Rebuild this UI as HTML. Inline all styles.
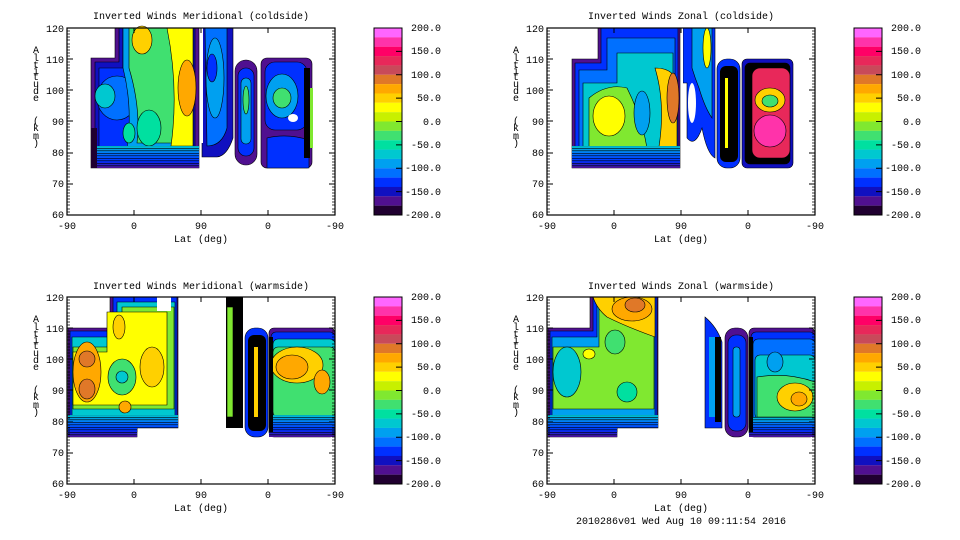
<!DOCTYPE html>
<html><head><meta charset="utf-8"><style>
html,body{margin:0;padding:0;background:#fff;}
svg{display:block;}
text{font-family:"Liberation Mono","DejaVu Sans Mono",monospace;font-size:10px;fill:#000;}
.c{stroke:#000;stroke-width:0.6;}
</style></head><body>
<svg width="960" height="540" viewBox="0 0 960 540" xmlns="http://www.w3.org/2000/svg">
<defs>
<linearGradient id="rimb" x1="0" y1="0" x2="0" y2="1">
<stop offset="0" stop-color="#00c8d0"/><stop offset="0.35" stop-color="#0070ff"/><stop offset="0.7" stop-color="#0030ff"/><stop offset="1" stop-color="#501090"/>
</linearGradient>
<pattern id="hl" width="4" height="2.5" patternUnits="userSpaceOnUse"><rect width="4" height="0.6" fill="#000"/></pattern>
<g id="ticks">
<rect x="0" y="0" width="268" height="187" fill="none" stroke="#000" stroke-width="1.2"/>
<path d="M67,187v-5M134,187v-5M201,187v-5M67,0v5M134,0v5M201,0v5" stroke="#000"/>
<path d="M0,0h6M0,31h6M0,62h6M0,93h6M0,125h6M0,156h6M0,187h6M268,0h-6M268,31h-6M268,62h-6M268,93h-6M268,125h-6M268,156h-6" stroke="#000"/>
<path d="M0,3h3M0,6h3M0,9h3M0,12h3M0,16h3M0,19h3M0,22h3M0,25h3M0,28h3M0,34h3M0,37h3M0,40h3M0,43h3M0,47h3M0,50h3M0,53h3M0,56h3M0,59h3M0,65h3M0,68h3M0,71h3M0,75h3M0,78h3M0,81h3M0,84h3M0,87h3M0,90h3M0,96h3M0,99h3M0,102h3M0,106h3M0,109h3M0,112h3M0,115h3M0,118h3M0,121h3M0,128h3M0,131h3M0,134h3M0,137h3M0,140h3M0,143h3M0,146h3M0,149h3M0,153h3M0,159h3M0,162h3M0,165h3M0,168h3M0,171h3M0,174h3M0,177h3M0,181h3M0,184h3" stroke="#000" stroke-width="0.8"/>
<path d="M268,3h-3M268,6h-3M268,9h-3M268,12h-3M268,16h-3M268,19h-3M268,22h-3M268,25h-3M268,28h-3M268,34h-3M268,37h-3M268,40h-3M268,43h-3M268,47h-3M268,50h-3M268,53h-3M268,56h-3M268,59h-3M268,65h-3M268,68h-3M268,71h-3M268,75h-3M268,78h-3M268,81h-3M268,84h-3M268,87h-3M268,90h-3M268,96h-3M268,99h-3M268,102h-3M268,106h-3M268,109h-3M268,112h-3M268,115h-3M268,118h-3M268,121h-3M268,128h-3M268,131h-3M268,134h-3M268,137h-3M268,140h-3M268,143h-3M268,146h-3M268,149h-3M268,153h-3M268,159h-3M268,162h-3M268,165h-3M268,168h-3M268,171h-3M268,174h-3M268,177h-3M268,181h-3M268,184h-3" stroke="#000" stroke-width="0.8"/>
</g>
<g id="cbar">
<rect x="0" y="0" width="28" height="9.4" fill="#ff66ff"/>
<rect x="0" y="9.35" width="28" height="9.4" fill="#ff33aa"/>
<rect x="0" y="18.7" width="28" height="9.4" fill="#ff0066"/>
<rect x="0" y="28.05" width="28" height="9.4" fill="#e8285a"/>
<rect x="0" y="37.4" width="28" height="9.4" fill="#c84a5a"/>
<rect x="0" y="46.75" width="28" height="9.4" fill="#e07828"/>
<rect x="0" y="56.1" width="28" height="9.4" fill="#ffa800"/>
<rect x="0" y="65.45" width="28" height="9.4" fill="#ffd000"/>
<rect x="0" y="74.8" width="28" height="9.4" fill="#ffff00"/>
<rect x="0" y="84.15" width="28" height="9.4" fill="#c8f000"/>
<rect x="0" y="93.5" width="28" height="9.4" fill="#80e830"/>
<rect x="0" y="102.85" width="28" height="9.4" fill="#40e070"/>
<rect x="0" y="112.2" width="28" height="9.4" fill="#00e0a0"/>
<rect x="0" y="121.55" width="28" height="9.4" fill="#00c8d0"/>
<rect x="0" y="130.9" width="28" height="9.4" fill="#00a0f0"/>
<rect x="0" y="140.25" width="28" height="9.4" fill="#0070ff"/>
<rect x="0" y="149.6" width="28" height="9.4" fill="#0030ff"/>
<rect x="0" y="158.95" width="28" height="9.4" fill="#1010c0"/>
<rect x="0" y="168.3" width="28" height="9.4" fill="#501090"/>
<rect x="0" y="177.65" width="28" height="9.35" fill="#200030"/>
<rect x="0" y="0" width="28" height="187" fill="none" stroke="#000"/>
<path d="M28,23.4h-6M28,46.8h-6M28,70.1h-6M28,93.5h-6M28,116.9h-6M28,140.3h-6M28,163.6h-6" stroke="#000"/>
</g>
</defs>

<!-- ===== Panel TL ===== -->
<g transform="translate(67,28)">
 <path d="M24,30H48V0H132V140H24Z" fill="#501090" class="c"/>
 <path d="M28,34H52V0H128V135H28Z" fill="#1010c0" class="c"/>
 <path d="M32,40H56V0H126V128H32Z" fill="#0030ff" class="c"/>
 <ellipse cx="50" cy="70" rx="20" ry="22" fill="#0070ff" class="c"/>
 <ellipse cx="38" cy="68" rx="10" ry="12" fill="#00c8d0" class="c"/>
 <path d="M56,0H126V120H60Q66,80 56,40Z" fill="#00a0f0" class="c"/>
 <path d="M62,0H126V115H70Q74,80 62,40Z" fill="#40e070" class="c"/>
 <ellipse cx="82" cy="100" rx="12" ry="18" fill="#00e0a0" class="c"/>
 <ellipse cx="62" cy="105" rx="6" ry="10" fill="#00e0a0" class="c"/>
 <path d="M100,0H126V118H104Q112,60 100,0Z" fill="#ffff00" class="c"/>
 <ellipse cx="120" cy="60" rx="9" ry="28" fill="#ffa800" class="c"/>
 <ellipse cx="75" cy="12" rx="10" ry="14" fill="#ffd000" class="c"/>
 <rect x="24" y="118" width="108" height="22" fill="url(#rimb)"/>
 <rect x="24" y="118" width="108" height="22" fill="url(#hl)"/>
 <path d="M24,100h6v40h-6z" fill="#200030"/>
 <path d="M135,0H166V110Q160,128 150,129H135Z" fill="#1010c0" class="c"/>
 <path d="M138,0H160V100Q155,118 140,118Z" fill="#0070ff" class="c"/>
 <ellipse cx="148" cy="50" rx="9" ry="40" fill="#00a0f0" class="c"/>
 <ellipse cx="145" cy="40" rx="5" ry="14" fill="#0030ff" class="c"/>
 <rect x="134" y="0" width="2" height="115" fill="#fff"/>
 <rect x="168" y="32" width="22" height="105" rx="11" fill="#501090" class="c"/>
 <rect x="171" y="40" width="16" height="88" rx="8" fill="#0030ff" class="c"/>
 <rect x="174" y="50" width="10" height="66" rx="5" fill="#00a0f0" class="c"/>
 <ellipse cx="179" cy="72" rx="3" ry="14" fill="#40e070" class="c"/>
 <rect x="194" y="30" width="51" height="110" rx="6" fill="#501090" class="c"/>
 <rect x="198" y="34" width="42" height="68" rx="10" fill="#0030ff" class="c"/>
 <ellipse cx="215" cy="68" rx="16" ry="22" fill="#00a0f0" class="c"/>
 <ellipse cx="215" cy="70" rx="9" ry="10" fill="#40e070" class="c"/>
 <path d="M200,110Q220,105 242,112V140H200Z" fill="#0030ff" class="c"/>
 <ellipse cx="226" cy="90" rx="5" ry="4" fill="#fff"/>
 <rect x="237" y="40" width="6" height="90" fill="#000"/>
 <rect x="243" y="60" width="3" height="60" fill="#80e830"/>
 <use href="#ticks"/>
</g>
<use href="#cbar" x="374" y="28"/>

<!-- ===== Panel TR ===== -->
<g transform="translate(547,28)">
 <path d="M25,31H51V0H133V140H25Z" fill="#501090" class="c"/>
 <path d="M28,35H54V0H131V136H28Z" fill="#0030ff" class="c"/>
 <path d="M32,42H60V10H128V130H32Z" fill="#0070ff" class="c"/>
 <path d="M36,55H70V25H126V124H36Z" fill="#00c8d0" class="c"/>
 <path d="M42,70Q60,55 80,60Q95,90 100,120H42Z" fill="#80e830" class="c"/>
 <ellipse cx="62" cy="88" rx="16" ry="20" fill="#ffff00" class="c"/>
 <ellipse cx="95" cy="85" rx="8" ry="22" fill="#00a0f0" class="c"/>
 <path d="M108,40Q130,40 130,60V130H110Q120,80 108,40Z" fill="#ffd000" class="c"/>
 <ellipse cx="126" cy="70" rx="6" ry="25" fill="#e07828" class="c"/>
 <rect x="25" y="118" width="108" height="22" fill="url(#rimb)"/>
 <rect x="25" y="118" width="108" height="22" fill="url(#hl)"/>
 <path d="M136,0H168V130Q160,126 155,100Q148,120 140,110V55H136Z" fill="#0030ff" class="c"/>
 <path d="M145,0H165V90Q158,80 152,60Q148,50 145,40Z" fill="#00a0f0" class="c"/>
 <ellipse cx="160" cy="20" rx="4" ry="20" fill="#ffff00" class="c"/>
 <ellipse cx="145" cy="75" rx="4" ry="20" fill="#fff"/>
 <rect x="134" y="0" width="2" height="130" fill="#fff"/>
 <rect x="170" y="31" width="23" height="109" rx="10" fill="#0030ff" class="c"/>
 <rect x="173" y="38" width="18" height="96" rx="6" fill="#000"/>
 <rect x="178" y="50" width="3" height="70" fill="#ffff00"/>
 <rect x="195" y="31" width="51" height="109" rx="5" fill="#1010c0" class="c"/>
 <rect x="198" y="35" width="45" height="101" rx="5" fill="#000" class="c"/>
 <rect x="205" y="40" width="38" height="90" rx="8" fill="#e8285a" class="c"/>
 <ellipse cx="223" cy="72" rx="15" ry="12" fill="#ffd000" class="c"/>
 <ellipse cx="223" cy="73" rx="8" ry="6" fill="#40e070" class="c"/>
 <circle cx="223" cy="103" r="16" fill="#ff33aa" class="c"/>
 <use href="#ticks"/>
</g>
<use href="#cbar" x="854" y="28"/>

<!-- ===== Panel BL ===== -->
<g transform="translate(67,297)">
 <path d="M1,31H43V0H111V131H70V140H1Z" fill="#501090" class="c"/>
 <path d="M3,34H46V0H110V127H70V135H3Z" fill="#0030ff" class="c"/>
 <path d="M5,40H50V5H108V120H5Z" fill="#00c8d0" class="c"/>
 <path d="M6,50H55V10H107V112H6Z" fill="#80e830" class="c"/>
 <path d="M6,55H40V15H100V108H6Z" fill="#ffff00" class="c"/>
 <ellipse cx="20" cy="75" rx="14" ry="30" fill="#ffa800" class="c"/>
 <ellipse cx="20" cy="62" rx="8" ry="8" fill="#e07828" class="c"/>
 <ellipse cx="20" cy="92" rx="8" ry="10" fill="#e07828" class="c"/>
 <ellipse cx="55" cy="80" rx="14" ry="18" fill="#40e070" class="c"/>
 <ellipse cx="55" cy="80" rx="6" ry="6" fill="#00c8d0" class="c"/>
 <ellipse cx="85" cy="70" rx="12" ry="20" fill="#ffd000" class="c"/>
 <ellipse cx="58" cy="110" rx="6" ry="6" fill="#ffa800" class="c"/>
 <ellipse cx="52" cy="30" rx="6" ry="12" fill="#ffd000" class="c"/>
 <path d="M1,118H111V131H70V140H1Z" fill="url(#rimb)"/>
 <path d="M1,118H111V131H70V140H1Z" fill="url(#hl)"/>
 <rect x="90" y="0" width="14" height="14" fill="#fff"/>
 <rect x="159" y="0" width="17" height="131" fill="#000"/>
 <rect x="160" y="10" width="6" height="110" fill="#80e830" class="c"/>
 <rect x="178" y="31" width="23" height="109" rx="10" fill="#0030ff" class="c"/>
 <rect x="181" y="38" width="18" height="96" rx="6" fill="#000"/>
 <rect x="187" y="50" width="4" height="70" fill="#ffd000"/>
 <rect x="202" y="31" width="66" height="109" rx="5" fill="#501090" class="c"/>
 <rect x="204" y="35" width="64" height="101" rx="5" fill="#0030ff" class="c"/>
 <rect x="206" y="42" width="62" height="88" rx="5" fill="#00c8d0" class="c"/>
 <rect x="206" y="50" width="62" height="70" rx="5" fill="#40e070" class="c"/>
 <ellipse cx="230" cy="68" rx="26" ry="18" fill="#ffd000" class="c"/>
 <ellipse cx="225" cy="70" rx="16" ry="12" fill="#ffa800" class="c"/>
 <ellipse cx="255" cy="85" rx="8" ry="12" fill="#ffa800" class="c"/>
 <rect x="202" y="118" width="66" height="22" fill="url(#rimb)"/>
 <rect x="202" y="118" width="66" height="22" fill="url(#hl)"/>
 <rect x="202" y="40" width="4" height="95" fill="#000"/>
 <use href="#ticks"/>
</g>
<use href="#cbar" x="374" y="297"/>

<!-- ===== Panel BR ===== -->
<g transform="translate(547,297)">
 <path d="M1,31H43V0H111V131H70V140H1Z" fill="#501090" class="c"/>
 <path d="M3,34H46V0H110V127H70V135H3Z" fill="#0030ff" class="c"/>
 <path d="M5,40H50V0H108V120H5Z" fill="#00a0f0" class="c"/>
 <path d="M6,50H52V10H107V112H6Z" fill="#80e830" class="c"/>
 <ellipse cx="20" cy="75" rx="14" ry="25" fill="#00c8d0" class="c"/>
 <ellipse cx="68" cy="45" rx="10" ry="12" fill="#40e070" class="c"/>
 <ellipse cx="80" cy="95" rx="10" ry="10" fill="#00e0a0" class="c"/>
 <ellipse cx="42" cy="57" rx="6" ry="5" fill="#ffff00" class="c"/>
 <path d="M46,0H108V40Q80,30 60,20Q50,12 46,0Z" fill="#ffd000" class="c"/>
 <ellipse cx="85" cy="12" rx="20" ry="12" fill="#ffa800" class="c"/>
 <ellipse cx="88" cy="8" rx="10" ry="7" fill="#e07828" class="c"/>
 <path d="M1,118H111V131H70V140H1Z" fill="url(#rimb)"/>
 <path d="M1,118H111V131H70V140H1Z" fill="url(#hl)"/>
 <path d="M158,20Q170,30 175,45V131H158Z" fill="#0030ff" class="c"/>
 <rect x="162" y="40" width="6" height="80" fill="#00a0f0"/>
 <rect x="168" y="40" width="6" height="85" fill="#000"/>
 <rect x="178" y="31" width="23" height="109" rx="10" fill="#501090" class="c"/>
 <rect x="181" y="38" width="18" height="96" rx="8" fill="#0030ff" class="c"/>
 <rect x="186" y="50" width="7" height="70" rx="3" fill="#00a0f0" class="c"/>
 <rect x="202" y="31" width="66" height="109" rx="5" fill="#501090" class="c"/>
 <rect x="204" y="35" width="64" height="101" rx="5" fill="#0030ff" class="c"/>
 <rect x="206" y="42" width="62" height="88" rx="5" fill="#0070ff" class="c"/>
 <rect x="208" y="58" width="60" height="64" rx="5" fill="#00c8d0" class="c"/>
 <path d="M210,80Q240,75 268,85V120H210Z" fill="#40e070" class="c"/>
 <ellipse cx="248" cy="100" rx="18" ry="14" fill="#ffd000" class="c"/>
 <ellipse cx="252" cy="102" rx="8" ry="7" fill="#ffa800" class="c"/>
 <ellipse cx="228" cy="65" rx="8" ry="10" fill="#00a0f0" class="c"/>
 <rect x="202" y="120" width="66" height="20" fill="url(#rimb)"/>
 <rect x="202" y="120" width="66" height="20" fill="url(#hl)"/>
 <rect x="202" y="40" width="4" height="95" fill="#000"/>
 <use href="#ticks"/>
</g>
<use href="#cbar" x="854" y="297"/>

<!-- Titles -->
<text x="201" y="19" text-anchor="middle">Inverted Winds Meridional (coldside)</text>
<text x="681" y="19" text-anchor="middle">Inverted Winds Zonal (coldside)</text>
<text x="201" y="289" text-anchor="middle">Inverted Winds Meridional (warmside)</text>
<text x="681" y="289" text-anchor="middle">Inverted Winds Zonal (warmside)</text>

<g text-anchor="end">
<text x="64" y="32">120</text><text x="64" y="63">110</text><text x="64" y="94">100</text><text x="64" y="125">90</text><text x="64" y="156">80</text><text x="64" y="187">70</text><text x="64" y="218">60</text>
<text x="544" y="32">120</text><text x="544" y="63">110</text><text x="544" y="94">100</text><text x="544" y="125">90</text><text x="544" y="156">80</text><text x="544" y="187">70</text><text x="544" y="218">60</text>
<text x="64" y="301">120</text><text x="64" y="332">110</text><text x="64" y="363">100</text><text x="64" y="394">90</text><text x="64" y="425">80</text><text x="64" y="456">70</text><text x="64" y="487">60</text>
<text x="544" y="301">120</text><text x="544" y="332">110</text><text x="544" y="363">100</text><text x="544" y="394">90</text><text x="544" y="425">80</text><text x="544" y="456">70</text><text x="544" y="487">60</text>
</g>
<g text-anchor="middle">
<text x="67" y="229">-90</text><text x="134" y="229">0</text><text x="201" y="229">90</text><text x="268" y="229">0</text><text x="335" y="229">-90</text>
<text x="547" y="229">-90</text><text x="614" y="229">0</text><text x="681" y="229">90</text><text x="748" y="229">0</text><text x="815" y="229">-90</text>
<text x="67" y="498">-90</text><text x="134" y="498">0</text><text x="201" y="498">90</text><text x="268" y="498">0</text><text x="335" y="498">-90</text>
<text x="547" y="498">-90</text><text x="614" y="498">0</text><text x="681" y="498">90</text><text x="748" y="498">0</text><text x="815" y="498">-90</text>
<text x="201" y="242">Lat (deg)</text><text x="681" y="242">Lat (deg)</text>
<text x="201" y="511">Lat (deg)</text><text x="681" y="511">Lat (deg)</text>
</g>
<g text-anchor="middle">
<text x="36" y="53">A</text><text x="36" y="61">l</text><text x="36" y="68">t</text><text x="36" y="74">i</text><text x="36" y="80">t</text><text x="36" y="87">u</text><text x="36" y="94">d</text><text x="36" y="101">e</text><text x="36" y="124">(</text><text x="36" y="131">k</text><text x="36" y="139">m</text><text x="36" y="146">)</text>
<text x="516" y="53">A</text><text x="516" y="61">l</text><text x="516" y="68">t</text><text x="516" y="74">i</text><text x="516" y="80">t</text><text x="516" y="87">u</text><text x="516" y="94">d</text><text x="516" y="101">e</text><text x="516" y="124">(</text><text x="516" y="131">k</text><text x="516" y="139">m</text><text x="516" y="146">)</text>
<text x="36" y="322">A</text><text x="36" y="330">l</text><text x="36" y="337">t</text><text x="36" y="343">i</text><text x="36" y="349">t</text><text x="36" y="356">u</text><text x="36" y="363">d</text><text x="36" y="370">e</text><text x="36" y="393">(</text><text x="36" y="400">k</text><text x="36" y="408">m</text><text x="36" y="415">)</text>
<text x="516" y="322">A</text><text x="516" y="330">l</text><text x="516" y="337">t</text><text x="516" y="343">i</text><text x="516" y="349">t</text><text x="516" y="356">u</text><text x="516" y="363">d</text><text x="516" y="370">e</text><text x="516" y="393">(</text><text x="516" y="400">k</text><text x="516" y="408">m</text><text x="516" y="415">)</text>
</g>
<g text-anchor="end">
<text x="441" y="31">200.0</text><text x="441" y="54">150.0</text><text x="441" y="78">100.0</text><text x="441" y="101">50.0</text><text x="441" y="125">0.0</text><text x="441" y="148">-50.0</text><text x="441" y="171">-100.0</text><text x="441" y="195">-150.0</text><text x="441" y="218">-200.0</text>
<text x="921" y="31">200.0</text><text x="921" y="54">150.0</text><text x="921" y="78">100.0</text><text x="921" y="101">50.0</text><text x="921" y="125">0.0</text><text x="921" y="148">-50.0</text><text x="921" y="171">-100.0</text><text x="921" y="195">-150.0</text><text x="921" y="218">-200.0</text>
<text x="441" y="300">200.0</text><text x="441" y="323">150.0</text><text x="441" y="347">100.0</text><text x="441" y="370">50.0</text><text x="441" y="394">0.0</text><text x="441" y="417">-50.0</text><text x="441" y="440">-100.0</text><text x="441" y="464">-150.0</text><text x="441" y="487">-200.0</text>
<text x="921" y="300">200.0</text><text x="921" y="323">150.0</text><text x="921" y="347">100.0</text><text x="921" y="370">50.0</text><text x="921" y="394">0.0</text><text x="921" y="417">-50.0</text><text x="921" y="440">-100.0</text><text x="921" y="464">-150.0</text><text x="921" y="487">-200.0</text>
</g>
<text x="681" y="524" text-anchor="middle">2010286v01 Wed Aug 10 09:11:54 2016</text>
</svg>
</body></html>
